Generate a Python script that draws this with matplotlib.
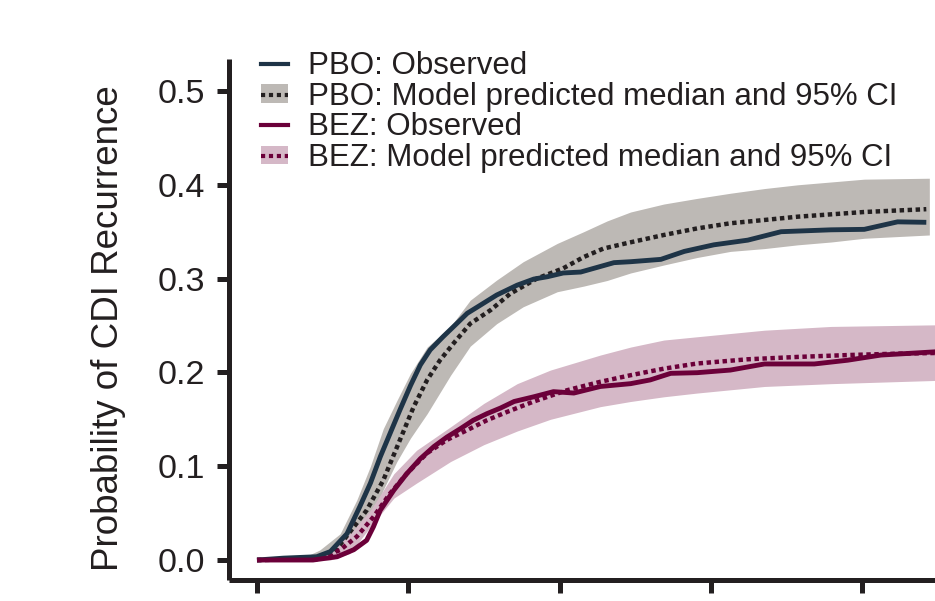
import numpy as np
import matplotlib
matplotlib.use('Agg')
import matplotlib.pyplot as plt
from matplotlib.patches import Patch
from matplotlib.lines import Line2D

plt.rcParams['font.family'] = ['Liberation Sans', 'DejaVu Sans']

# PBO: observed recurrence curve (days, probability)
pbo_obs_day = [0, 3.5, 7.9, 9.7, 11.9, 13.6, 15.0, 16.3, 17.6, 18.9, 20.3, 21.6, 22.9,
               24.6, 26.4, 27.8, 30.0, 31.7, 34.4, 36.6, 38.4, 40.5, 42.8, 45.0, 47.2,
               49.4, 53.4, 56.5, 60.4, 64.9, 69.3, 75.9, 80.3, 84.7, 88.5]
pbo_obs = [0.0, 0.002, 0.0035, 0.009, 0.028, 0.057, 0.082, 0.110, 0.135, 0.160, 0.186,
           0.208, 0.224, 0.238, 0.252, 0.263, 0.274, 0.2825, 0.293, 0.2995, 0.302, 0.306,
           0.307, 0.312, 0.317, 0.318, 0.3205, 0.329, 0.336, 0.341, 0.350, 0.352, 0.3525,
           0.3605, 0.360]

# PBO: model predicted median
pbo_med_day = [0, 8, 10, 12.3, 14.5, 16.7, 18.9, 20.7, 22.5, 24.2, 26.2, 28.2, 30.9,
               33.5, 37.0, 40.5, 43.2, 45.8, 49.0, 53.8, 58.2, 62.6, 67.1, 71.5, 75.9,
               80.3, 88.5]
pbo_med = [0.0, 0.001, 0.006, 0.030, 0.053, 0.085, 0.128, 0.163, 0.192, 0.213, 0.233,
           0.252, 0.2665, 0.284, 0.300, 0.311, 0.323, 0.332, 0.338, 0.3465, 0.3535,
           0.359, 0.3625, 0.366, 0.3685, 0.371, 0.374]

# PBO: 95% CI
pbo_ci_day = [0, 6, 8.3, 11.0, 13.2, 15.0, 16.7, 18.5, 20.3, 22.5, 25.6, 28.2, 31.7,
              35.2, 39.7, 43.2, 46.3, 49.4, 53.8, 58.2, 62.6, 67.1, 71.5, 75.9, 80.3, 88.9]
pbo_hi = [0.0, 0.002, 0.0107, 0.028, 0.064, 0.100, 0.140, 0.170, 0.199, 0.227, 0.249,
          0.277, 0.2985, 0.318, 0.3375, 0.350, 0.3615, 0.371, 0.3795, 0.3855, 0.391,
          0.396, 0.400, 0.403, 0.406, 0.407]
pbo_lo = [0.0, 0.0, 0.0, 0.005, 0.020, 0.040, 0.075, 0.105, 0.130, 0.156, 0.197, 0.228,
          0.252, 0.270, 0.286, 0.292, 0.298, 0.306, 0.3145, 0.3225, 0.329, 0.332, 0.336,
          0.339, 0.343, 0.3465]

# BEZ: observed
bez_obs_day = [0, 7.4, 10.6, 12.8, 14.5, 15.4, 16.3, 18.1, 19.8, 21.6, 23.4, 25.1, 26.9,
               28.6, 30.4, 32.2, 34.0, 36.6, 39.2, 41.9, 45.4, 49.4, 52.0, 54.7, 58.2,
               62.6, 67.1, 73.7, 78.1, 82.5, 89.8, 92]
bez_obs = [0.0, 0.0, 0.0035, 0.011, 0.021, 0.0355, 0.053, 0.0745, 0.092, 0.108, 0.121,
           0.131, 0.140, 0.149, 0.156, 0.162, 0.169, 0.174, 0.1795, 0.178, 0.185, 0.188,
           0.192, 0.199, 0.1997, 0.2025, 0.209, 0.209, 0.213, 0.2185, 0.222, 0.222]

# BEZ: model predicted median
bez_med_day = [0, 8, 11.0, 13.2, 15.4, 17.6, 19.8, 22.5, 25.1, 27.8, 30.4, 33.1, 36.6,
               41.0, 45.4, 49.4, 53.8, 58.2, 64.9, 71.5, 78.1, 84.7, 92]
bez_med = [0.0, 0.001, 0.0107, 0.025, 0.046, 0.071, 0.092, 0.114, 0.128, 0.1385, 0.149,
           0.158, 0.169, 0.181, 0.190, 0.197, 0.204, 0.2095, 0.214, 0.2165, 0.2185,
           0.220, 0.221]

# BEZ: 95% CI
bez_ci_day = [0, 8, 9.7, 12.3, 15.0, 18.1, 21.1, 25.6, 30.0, 34.4, 38.8, 45.4, 49.4,
              53.8, 58.2, 67.1, 75.9, 92]
bez_hi = [0.0, 0.001, 0.0107, 0.028, 0.053, 0.092, 0.117, 0.142, 0.167, 0.188, 0.2025,
          0.2185, 0.227, 0.2345, 0.238, 0.245, 0.249, 0.251]
bez_lo = [0.0, 0.0, 0.0, 0.007, 0.0355, 0.066, 0.082, 0.105, 0.123, 0.1375, 0.150,
          0.1635, 0.169, 0.174, 0.178, 0.185, 0.188, 0.192]

x_ticks = [0, 20, 40, 60, 80]
y_ticks = [0.0, 0.1, 0.2, 0.3, 0.4, 0.5]

navy = '#1e3447'
dark = '#231f20'
grey = '#bdb9b5'
maroon = '#6b0039'
pink = '#d5b8c7'
dots = (0, (1, 0.8))

fw, fh = 9.35, 6.01
fig = plt.figure(figsize=(fw, fh), dpi=100, facecolor='w')
ax = fig.add_axes([229 / 935, 21 / 601, 706 / 935, 521 / 601])

ax.fill_between(pbo_ci_day, pbo_lo, pbo_hi, color=grey, lw=0, zorder=1)
ax.fill_between(bez_ci_day, bez_lo, bez_hi, color=pink, lw=0, zorder=1)
ax.plot(pbo_med_day, pbo_med, color=dark, lw=3.2, linestyle=dots, dash_capstyle='butt', zorder=2)
ax.plot(bez_med_day, bez_med, color=maroon, lw=3.2, linestyle=dots, dash_capstyle='butt', zorder=2)
ax.plot(pbo_obs_day, pbo_obs, color=navy, lw=3.5, solid_capstyle='butt', zorder=3)
ax.plot(bez_obs_day, bez_obs, color=maroon, lw=3.5, solid_capstyle='butt', zorder=3)

ax.set_xlim(-3.70, 89.65)
ax.set_ylim(-0.0213, 0.5341)
ax.set_xticks(x_ticks)
ax.set_yticks(y_ticks)
ax.set_yticklabels(['%.1f' % v for v in y_ticks])
ax.tick_params(axis='both', direction='out', length=9, width=3.6, color=dark,
               labelsize=24.5, labelcolor=dark, pad=8)
# x tick labels sit below the visible area in the reference crop
ax.tick_params(axis='x', labelbottom=False)
for side in ['top', 'right']:
    ax.spines[side].set_visible(False)
for side in ['left', 'bottom']:
    ax.spines[side].set_linewidth(3.6)
    ax.spines[side].set_color(dark)
    ax.spines[side].set_capstyle('butt')

ax.set_ylabel('Probability of CDI Recurrence', fontsize=26.5, color=dark)
ax.yaxis.set_label_coords(-0.146, 0.483)

# legend: lines and CI boxes with dotted medians
h_pbo = Line2D([], [], color=navy, lw=3.0)
h_pbo_m = (Patch(facecolor=grey, edgecolor='none'),
           Line2D([], [], color=dark, lw=3.0, linestyle=(0, (1, 0.9))))
h_bez = Line2D([], [], color=maroon, lw=3.0)
h_bez_m = (Patch(facecolor=pink, edgecolor='none'),
           Line2D([], [], color=maroon, lw=3.0, linestyle=(0, (1, 0.9))))
labels = ['PBO: Observed', 'PBO: Model predicted median and 95% CI',
          'BEZ: Observed', 'BEZ: Model predicted median and 95% CI']
fig.legend([h_pbo, h_pbo_m, h_bez, h_bez_m], labels, loc='upper left',
           bbox_to_anchor=(261 / 935, 1 - 51 / 601), frameon=False, fontsize=22.5,
           labelcolor=dark, handlelength=0.85, handleheight=0.52, handletextpad=0.65,
           labelspacing=0.02, borderpad=0, borderaxespad=0)

plt.savefig('out.png', dpi=100)
